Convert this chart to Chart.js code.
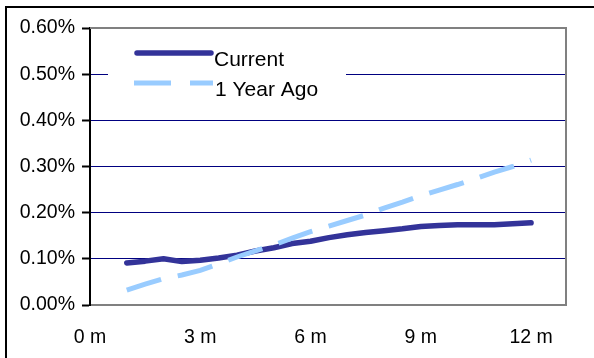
<!DOCTYPE html>
<html>
<head>
<meta charset="utf-8">
<script src="https://cdn.jsdelivr.net/npm/chart.js@4.4.1/dist/chart.umd.min.js"></script>
<style>
    html, body { margin: 0; padding: 0; background: #fff; overflow: hidden; }
    #frame { position: absolute; left: 5px; top: 6px; width: 640px; height: 400px; border: 2px solid #000; }
    #wrap { position: absolute; left: 0; top: 0; width: 594px; height: 358px; }
</style>
</head>
<body>
<div id="frame"></div>
<div id="wrap"><canvas id="chart" width="594" height="358"></canvas></div>
<script>
// months since start (half-month steps)
const months = [1, 1.5, 2, 2.5, 3, 3.5, 4, 4.5, 5, 5.5, 6, 6.5, 7, 7.5, 8, 8.5, 9, 9.5, 10, 10.5, 11, 11.5, 12];
const currentValues = [0.091, 0.095, 0.100, 0.094, 0.097, 0.102, 0.108, 0.117, 0.124, 0.133, 0.138, 0.146, 0.152, 0.157, 0.161, 0.165, 0.170, 0.172, 0.174, 0.174, 0.174, 0.176, 0.178];
const yearAgoValues = [0.032, 0.045, 0.057, 0.065, 0.075, 0.089, 0.104, 0.117, 0.130, 0.145, 0.159, 0.171, 0.183, 0.195, 0.210, 0.223, 0.237, 0.249, 0.261, 0.274, 0.288, 0.300, 0.314];
const xTickLabels = [0, 3, 6, 9, 12];
const seriesNames = ['Current', '1 Year Ago'];

const FONT = 'Arial, "Liberation Sans", sans-serif';

function toPoints(values) {
    return months.map((m, i) => ({ x: m, y: values[i] }));
}

// Legend box inside the plot + top/right plot border
const plotDecor = {
    id: 'plotDecor',
    afterDatasetsDraw(chart) {
        const ctx = chart.ctx;
        const a = chart.chartArea;
        ctx.save();
        // top and right gray border
        ctx.strokeStyle = '#808080';
        ctx.lineWidth = 2;
        ctx.beginPath();
        ctx.moveTo(a.left, a.top);
        ctx.lineTo(a.right, a.top);
        ctx.lineTo(a.right, a.bottom);
        ctx.stroke();

        // legend
        ctx.fillStyle = '#fff';
        ctx.fillRect(108, 36, 238, 70);

        ctx.lineWidth = 5.5;
        ctx.lineCap = 'round';
        ctx.strokeStyle = '#333399';
        ctx.beginPath();
        ctx.moveTo(137, 53);
        ctx.lineTo(211, 53);
        ctx.stroke();

        ctx.lineWidth = 5;
        ctx.lineCap = 'butt';
        ctx.strokeStyle = '#99CCFF';
        ctx.setLineDash([37, 19]);
        ctx.beginPath();
        ctx.moveTo(134, 83);
        ctx.lineTo(213, 83);
        ctx.stroke();
        ctx.setLineDash([]);

        ctx.fillStyle = '#000';
        ctx.font = '21px ' + FONT;
        ctx.textBaseline = 'alphabetic';
        ctx.textAlign = 'left';
        ctx.fillText(seriesNames[0], 214, 66);
        ctx.fillText(seriesNames[1], 215, 96);
        ctx.restore();
    }
};

new Chart(document.getElementById('chart'), {
    type: 'line',
    data: {
        datasets: [
            {
                label: seriesNames[0],
                data: toPoints(currentValues),
                borderColor: '#333399',
                borderWidth: 5.5,
                borderCapStyle: 'round',
                borderJoinStyle: 'round',
                pointRadius: 0,
                tension: 0,
                order: 1,
            },
            {
                label: seriesNames[1],
                data: toPoints(yearAgoValues),
                borderColor: '#99CCFF',
                borderWidth: 5,
                borderDash: [36, 17],
                borderCapStyle: 'butt',
                pointRadius: 0,
                tension: 0,
                order: 0,
            },
        ],
    },
    options: {
        responsive: false,
        animation: false,
        layout: { padding: { left: 0, right: 28, top: 28, bottom: 0 } },
        plugins: {
            legend: { display: false },
            tooltip: { enabled: false },
        },
        scales: {
            x: {
                type: 'linear',
                min: 0,
                max: 12.95,
                afterBuildTicks(scale) {
                    scale.ticks = xTickLabels.map((v) => ({ value: v }));
                },
                afterFit(scale) {
                    scale.height = 53;
                },
                grid: { display: false, drawTicks: false },
                border: { display: true, color: '#808080', width: 2 },
                ticks: {
                    padding: 21,
                    maxRotation: 0,
                    autoSkip: false,
                    color: '#000',
                    font: { family: FONT, size: 19.5 },
                    callback: (v) => v + ' m',
                },
            },
            y: {
                min: 0,
                max: 0.6,
                afterFit(scale) {
                    scale.width = 90;
                },
                grid: {
                    color: '#000080',
                    lineWidth: 1,
                    borderDash: [2, 1],
                    drawTicks: true,
                    tickLength: 8,
                    tickColor: '#000',
                    tickWidth: 2,
                    tickBorderDash: [],
                },
                border: { display: true, color: '#000', width: 2 },
                ticks: {
                    stepSize: 0.1,
                    padding: 7,
                    color: '#000',
                    font: { family: FONT, size: 19.5 },
                    callback: (v) => v.toFixed(2) + '%',
                },
            },
        },
    },
    plugins: [plotDecor],
});
</script>
</body>
</html>
